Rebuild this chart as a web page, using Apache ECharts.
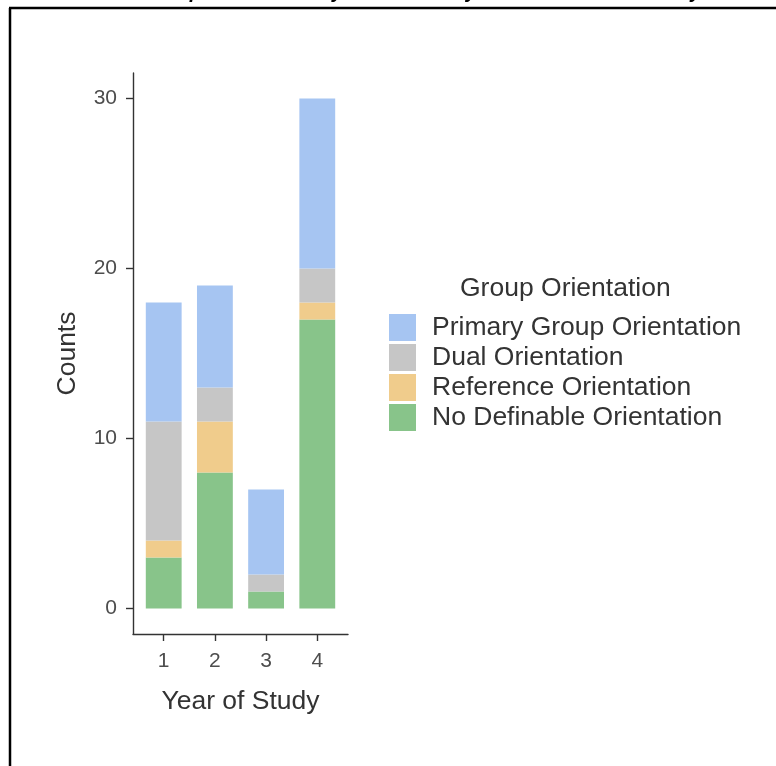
<!DOCTYPE html>
<html>
<head>
<meta charset="utf-8">
<script src="https://cdn.jsdelivr.net/npm/echarts@6/dist/echarts.min.js"></script>
<style>
html,body{margin:0;padding:0;background:#fff;}
#chart{width:776px;height:766px;}
</style>
</head>
<body>
<div id="chart"></div>
<script>
// ---- data ----
const years = [1, 2, 3, 4];
const yearLabels = ['1', '2', '3', '4'];
const noDefinable = [3, 8, 1, 17];
const reference = [1, 3, 0, 1];
const dual = [7, 2, 1, 2];
const primary = [7, 6, 5, 10];
const yTicks = [0, 10, 20, 30];
const seriesNames = ['No Definable Orientation', 'Reference Orientation', 'Dual Orientation', 'Primary Group Orientation'];
const legendOrder = ['Primary Group Orientation', 'Dual Orientation', 'Reference Orientation', 'No Definable Orientation'];
const colors = ['#88c48a', '#f0cc8c', '#c6c6c6', '#a6c5f2'];
const titleText = 'Group Orientation by Year of Study: Whole Student Survey';

const values = [noDefinable, reference, dual, primary];
const FONT = '"Liberation Sans", Arial, Helvetica, sans-serif';

// axis frame geometry (ggplot-like expansion: 0.6 units on each side of the categories)
const axLeft = 133, axRight = 348, axTop = 73, axBottom = 634, W = 776, H = 766;
const xMin = 0.4, xMax = 4.6;
const unit = (axRight - axLeft) / (xMax - xMin);
const barLeft = axLeft + (years[0] - 0.5 - xMin) * unit;
const barRight = barLeft + years.length * unit;

const chart = echarts.init(document.getElementById('chart'), null, {renderer: 'canvas'});
const option = {
  backgroundColor: '#ffffff',
  animation: false,
  color: colors,
  title: {
    text: 'Group Orientation',
    left: 460, top: 275, padding: 0,
    textStyle: {fontFamily: FONT, fontSize: 26.5, fontWeight: 'normal', color: '#333333'}
  },
  legend: {
    data: legendOrder,
    orient: 'vertical',
    left: 389, top: 314, padding: 0,
    itemWidth: 27, itemHeight: 27, itemGap: 3,
    icon: 'rect',
    textStyle: {fontFamily: FONT, fontSize: 26.5, color: '#333333', padding: [0, 0, 0, 11]}
  },
  grid: [
    {left: barLeft, right: W - barRight, top: axTop, bottom: H - axBottom, containLabel: false},
    {left: axLeft, right: W - axRight, top: axTop, bottom: H - axBottom, containLabel: false}
  ],
  xAxis: [
    {
      type: 'category', gridIndex: 0, data: yearLabels, boundaryGap: true,
      axisLine: {show: false}, axisTick: {show: false}, axisLabel: {show: false}, splitLine: {show: false}
    },
    {
      type: 'value', gridIndex: 1, min: xMin, max: xMax,
      name: 'Year of Study', nameLocation: 'middle', nameGap: 54,
      nameTextStyle: {fontFamily: FONT, fontSize: 26.5, color: '#333333'},
      axisLine: {show: true, onZero: false, lineStyle: {color: '#333333', width: 1.4}},
      axisTick: {show: true, length: 7, customValues: years, lineStyle: {color: '#333333', width: 1.4}},
      axisLabel: {customValues: years, margin: 17, fontFamily: FONT, fontSize: 21, color: '#4d4d4d'},
      splitLine: {show: false}
    }
  ],
  yAxis: [
    {
      type: 'value', gridIndex: 0, min: -1.5, max: 31.5,
      axisLine: {show: false}, axisTick: {show: false}, axisLabel: {show: false}, splitLine: {show: false}
    },
    {
      type: 'value', gridIndex: 1, min: -1.5, max: 31.5,
      name: 'Counts', nameLocation: 'middle', nameGap: 52,
      nameTextStyle: {fontFamily: FONT, fontSize: 26.5, color: '#333333'},
      axisLine: {show: true, onZero: false, lineStyle: {color: '#333333', width: 1.4}},
      axisTick: {show: true, length: 7, customValues: yTicks, lineStyle: {color: '#333333', width: 1.4}},
      axisLabel: {customValues: yTicks, margin: 16, fontFamily: FONT, fontSize: 21, color: '#4d4d4d'},
      splitLine: {show: false}
    }
  ],
  series: seriesNames.map((name, k) => ({
    name: name,
    type: 'bar',
    xAxisIndex: 0, yAxisIndex: 0,
    stack: 'total',
    barWidth: '70%',
    itemStyle: {color: colors[k]},
    data: values[k]
  })),
  graphic: [
    {type: 'text', x: 142, y: -17.5, silent: true, z: -1,
     style: {text: titleText, font: 'italic bold 20px ' + FONT, fill: '#000', verticalAlign: 'top', align: 'left'}},
    {type: 'line', shape: {x1: 10, y1: 8, x2: 10, y2: 766}, style: {stroke: '#000', lineWidth: 2.5}, silent: true},
    {type: 'line', shape: {x1: 9, y1: 8, x2: 776, y2: 8}, style: {stroke: '#000', lineWidth: 2.5}, silent: true}
  ]
};
chart.setOption(option);
</script>
</body>
</html>
